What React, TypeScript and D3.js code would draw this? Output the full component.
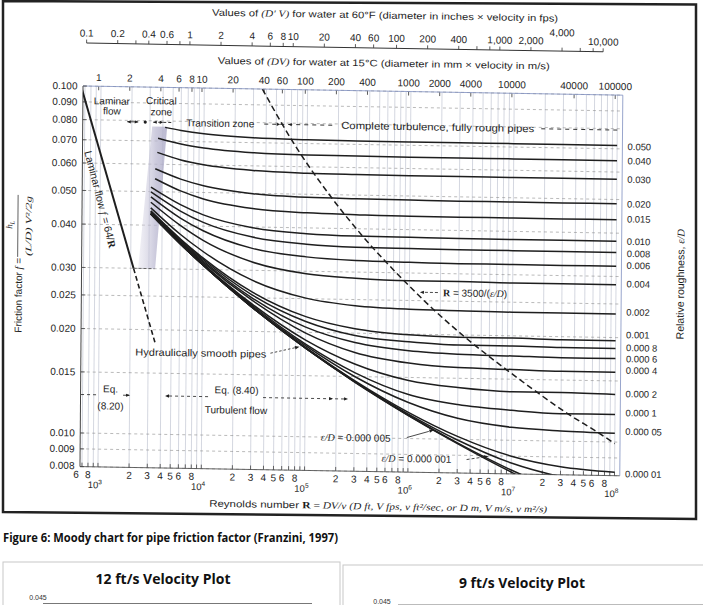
import React from "react";
import * as d3 from "d3";

// ---------- data ----------
// Reynolds numbers at which every roughness curve is read (after its own start point)
const RE_GRID = [6e3, 1e4, 3e4, 1e5, 3e5, 1e6, 3e6, 1e7, 3e7, 1e8];

const CURVE_LABELS = [
  "0.050", "0.040", "0.030", "0.020", "0.015", "0.010", "0.008", "0.006", "0.004", "0.002",
  "0.001", "0.000 8", "0.000 6", "0.000 4", "0.000 2", "0.000 1", "0.000 05", "0.000 01",
  "", "", "",
];
const LABEL_NUDGE = [1, 0, 0, 0, -1, 0, 1, -1, -1, -2, -6, -1, 0, -2, -1, -2, -2, 1.5, 0, 0, 0];
const CURVE_START_RE = [4200, 3600, 3550, 3400, 3400, 3100, 3100, 3100, 3100, 3100, 3100, 3100, 3100, 3100, 3100, 3100, 3100, 3100, 3100, 3100, 3100];
const CURVE_START_F = [0.0767, 0.0713, 0.0649, 0.0582, 0.0545, 0.0515, 0.0499, 0.0483, 0.0466, 0.0449, 0.044, 0.0438, 0.0436, 0.0434, 0.0432, 0.0432, 0.0431, 0.0431, 0.0431, 0.0431, 0.0431];
const CURVE_F = [
  [0.0753, 0.0738, 0.0723, 0.0718, 0.0716, 0.0716, 0.0716, 0.0716, 0.0716, 0.0716],
  [0.0688, 0.0672, 0.0655, 0.0649, 0.0648, 0.0647, 0.0647, 0.0647, 0.0647, 0.0647],
  [0.0619, 0.0601, 0.0582, 0.0575, 0.0573, 0.0572, 0.0572, 0.0572, 0.0572, 0.0572],
  [0.0545, 0.0523, 0.0499, 0.049, 0.0488, 0.0487, 0.0486, 0.0486, 0.0486, 0.0486],
  [0.0504, 0.0479, 0.0452, 0.0442, 0.0439, 0.0437, 0.0437, 0.0437, 0.0437, 0.0437],
  [0.046, 0.0431, 0.0398, 0.0385, 0.0381, 0.038, 0.0379, 0.0379, 0.0379, 0.0379],
  [0.0441, 0.041, 0.0374, 0.0359, 0.0354, 0.0353, 0.0352, 0.0352, 0.0352, 0.0352],
  [0.0421, 0.0388, 0.0347, 0.033, 0.0324, 0.0322, 0.0321, 0.0321, 0.0321, 0.0321],
  [0.0401, 0.0364, 0.0317, 0.0295, 0.0288, 0.0285, 0.0285, 0.0284, 0.0284, 0.0284],
  [0.0378, 0.0338, 0.0281, 0.0251, 0.024, 0.0236, 0.0235, 0.0234, 0.0234, 0.0234],
  [0.0367, 0.0324, 0.026, 0.0222, 0.0206, 0.0199, 0.0197, 0.0197, 0.0196, 0.0196],
  [0.0365, 0.0321, 0.0255, 0.0215, 0.0197, 0.019, 0.0187, 0.0187, 0.0186, 0.0186],
  [0.0362, 0.0318, 0.025, 0.0207, 0.0188, 0.0179, 0.0176, 0.0175, 0.0174, 0.0174],
  [0.036, 0.0315, 0.0246, 0.0199, 0.0176, 0.0165, 0.0161, 0.016, 0.0159, 0.0159],
  [0.0358, 0.0312, 0.024, 0.019, 0.0163, 0.0147, 0.0141, 0.0138, 0.0138, 0.0137],
  [0.0356, 0.031, 0.0238, 0.0185, 0.0154, 0.0134, 0.0126, 0.0122, 0.012, 0.012],
  [0.0356, 0.031, 0.0236, 0.0183, 0.015, 0.0127, 0.0115, 0.0109, 0.0107, 0.0106],
  [0.0355, 0.0309, 0.0235, 0.0181, 0.0146, 0.0119, 0.0102, 0.009, 0.00844, 0.00819],
  [0.0355, 0.0309, 0.0235, 0.018, 0.0145, 0.01176, 0.00996, 0.0086, 0.0079, 0.0075],
  [0.0355, 0.0309, 0.0235, 0.018, 0.0145, 0.01167, 0.00977, 0.00821, 0.0072, 0.0065],
  [0.0355, 0.0309, 0.0235, 0.018, 0.01446, 0.01165, 0.00972, 0.0081, 0.007, 0.006],
];

// laminar flow f = 64/R and its dashed extension
const LAMINAR_RE = [640, 2133];
const LAMINAR_F = [0.1, 0.03];
const LAMINAR_EXT_RE = [2133, 3480];
const LAMINAR_EXT_F = [0.03, 0.0184];

// boundary R = 3500/(e/D)
const BOUNDARY_RE = [36500, 70000, 175000, 350000, 875000, 1.75e6, 3.5e6, 8.75e6, 1.75e7, 3.5e7, 7e7, 1e8];
const BOUNDARY_F = [0.1, 0.0719, 0.0489, 0.0381, 0.0286, 0.0235, 0.0197, 0.016, 0.0138, 0.012, 0.0106, 0.0099];

// critical zone shading
const CRIT_RE = [2360, 3450, 4400, 3150];
const CRIT_F = [0.03, 0.03, 0.077, 0.077];

// axis ticks
const F_TICKS = [0.1, 0.09, 0.08, 0.07, 0.06, 0.05, 0.04, 0.03, 0.025, 0.02, 0.015, 0.01, 0.009, 0.008];
const F_TICK_LABELS = ["0.100", "0.090", "0.080", "0.070", "0.060", "0.050", "0.040", "0.030", "0.025", "0.020", "0.015", "0.010", "0.009", "0.008"];
const RE_LABEL_MULTS = [2, 3, 4, 5, 6, 8];
const RE_DECADES = [3, 4, 5, 6, 7, 8];
const RE_LOW_LABELS = [600, 800];

const DPV_FACTOR = 7200; // Re per unit of D'V (in x fps)
const DPV_TICKS = [0.1, 0.2, 0.4, 0.6, 1, 2, 4, 6, 8, 10, 20, 40, 60, 100, 200, 400, 1000, 2000, 4000, 10000];
const DPV_LABELS = ["0.1", "0.2", "0.4", "0.6", "1", "2", "4", "6", "8", "10", "20", "40", "60", "100", "200", "400", "1,000", "2,000", "4,000", "10,000"];
const DPV_MINOR = [0.3, 0.8, 600, 800, 6000, 8000];
const DV_FACTOR = 950; // Re per unit of DV (mm x m/s)
const DV_TICKS = [1, 2, 4, 6, 8, 10, 20, 40, 60, 100, 200, 400, 1000, 2000, 4000, 10000, 40000, 100000];
const DV_LABELS = ["1", "2", "4", "6", "8", "10", "20", "40", "60", "100", "200", "400", "1000", "2000", "4000", "10000", "40000", "100000"];

const SANS = "'Liberation Sans', Arial, sans-serif";
const SERIF = "'Liberation Serif', 'Times New Roman', serif";
const INK = "#1e1e1e";

function arrowHead(x: number, y: number, dir: number, len = 5, hw = 2): string {
  const c = Math.cos(dir), s = Math.sin(dir);
  const bx = x - len * c, by = y - len * s;
  return `M${x},${y}L${bx - hw * s},${by + hw * c}L${bx + hw * s},${by - hw * c}Z`;
}

export default function App() {
  const PL = 81.5, PR = 621.3, PT = 86, PB = 466.6;
  const x = d3.scaleLog().domain([669.7, 1.125e8]).range([PL, PR]);
  const y = d3.scaleLog().domain([0.008, 0.1]).range([PB, PT]);
  const line = d3
    .line<[number, number]>()
    .x((d) => x(d[0]))
    .y((d) => y(d[1]))
    .curve(d3.curveMonotoneX);
  const straight = d3
    .line<[number, number]>()
    .x((d) => x(d[0]))
    .y((d) => y(d[1]));

  const curves = CURVE_F.map((fs, i) => {
    const pts: [number, number][] = [[CURVE_START_RE[i], CURVE_START_F[i]]];
    RE_GRID.forEach((re, j) => {
      if (re > CURVE_START_RE[i]) pts.push([re, fs[j]]);
    });
    return pts;
  });

  const vGrid: number[] = [];
  for (let d = 2; d <= 8; d++) {
    for (let m = 1; m <= 9; m++) {
      const v = m * Math.pow(10, d);
      if (v >= 669.7 && v <= 1.125e8) vGrid.push(v);
    }
  }

  const reLabels: { v: number; t: string }[] = RE_LOW_LABELS.map((v) => ({ v, t: String(v / 100) }));
  RE_DECADES.forEach((d) => {
    if (d < 8) RE_LABEL_MULTS.forEach((m) => reLabels.push({ v: m * Math.pow(10, d), t: String(m) }));
  });

  const boundaryPts = BOUNDARY_RE.map((r, i) => [r, BOUNDARY_F[i]] as [number, number]);
  const critPts = CRIT_RE.map((r, i) => [x(r), y(CRIT_F[i])].join(",")).join(" ");

  const rowY = 121;
  const eqY = 394.5;
  const B = 0.017, C = -0.008;
  const skew = `matrix(1,${B},${C},1,${-C * 276},${-B * 82})`;

  return (
    <svg
      width={703}
      height={605}
      viewBox="0 0 703 605"
      style={{ position: "fixed", left: 0, top: 0, background: "#fff" }}
      fontFamily={SANS}
    >
      <defs>
        <clipPath id="plotClip">
          <rect x={PL} y={PT} width={PR - PL} height={PB - PT} />
        </clipPath>
        <linearGradient id="critGrad" x1="0" x2="1" y1="0" y2="0">
          <stop offset="0" stopColor="#d9d7e6" stopOpacity={0.35} />
          <stop offset="0.6" stopColor="#bcbad2" stopOpacity={0.75} />
          <stop offset="1" stopColor="#aeacc8" stopOpacity={0.85} />
        </linearGradient>
      </defs>
      <rect x={0} y={0} width={703} height={605} fill="#fff" />

      {/* scanned figure frame */}
      <polygon points="3,1 696,4.5 696,519 3,512" fill="none" stroke="#222" strokeWidth={2.5} />

      <g transform={skew}>
        {/* top scale 1: D'V */}
        <text x={383} y={13.5} fontSize={9.5} textAnchor="middle" fill={INK} textLength={346} lengthAdjust="spacingAndGlyphs">
          Values of <tspan fontFamily={SERIF} fontStyle="italic">(D′ V)</tspan> for water at 60°F (diameter in inches × velocity in fps)
        </text>
        <line x1={x(DPV_TICKS[0] * DPV_FACTOR)} x2={x(DPV_TICKS[DPV_TICKS.length - 1] * DPV_FACTOR)} y1={43} y2={43} stroke="#333" strokeWidth={1} />
        {DPV_TICKS.concat(DPV_MINOR).map((v, i) => (
          <line key={"dpt" + i} x1={x(v * DPV_FACTOR)} x2={x(v * DPV_FACTOR)} y1={43} y2={39.5} stroke="#333" strokeWidth={0.8} />
        ))}
        {DPV_TICKS.map((v, i) => (
          <text key={"dpl" + i} x={x(v * DPV_FACTOR)} y={DPV_LABELS[i] === "4,000" ? 28 : 36.5} fontSize={10} textAnchor="middle" fill={INK}>
            {DPV_LABELS[i]}
          </text>
        ))}

        {/* top scale 2: DV */}
        <text x={382} y={61.5} fontSize={9.5} textAnchor="middle" fill={INK} textLength={332} lengthAdjust="spacingAndGlyphs">
          Values of <tspan fontFamily={SERIF} fontStyle="italic">(DV)</tspan> for water at 15°C (diameter in mm × velocity in m/s)
        </text>
        {DV_TICKS.map((v, i) => (
          <g key={"dv" + i}>
            <line x1={x(v * DV_FACTOR)} x2={x(v * DV_FACTOR)} y1={PT} y2={PT + 4} stroke="#333" strokeWidth={0.8} />
            <text x={x(v * DV_FACTOR)} y={80.8} fontSize={10} textAnchor="middle" fill={INK}>
              {DV_LABELS[i]}
            </text>
          </g>
        ))}

        {/* grid */}
        {vGrid.map((v, i) => (
          <line key={"vg" + i} x1={x(v)} x2={x(v)} y1={PT} y2={PB} stroke="#b8bccb" strokeWidth={0.6} />
        ))}
        {F_TICKS.map((f, i) => (
          <line key={"hg" + i} x1={PL} x2={PR} y1={y(f)} y2={y(f)} stroke="#8c8c8c" strokeWidth={0.6} strokeDasharray="3,3" />
        ))}

        {/* plot borders */}
        <line x1={PL} x2={PL} y1={PT} y2={PB} stroke="#444" strokeWidth={1} />
        <line x1={PL} x2={PR} y1={PB} y2={PB} stroke="#555" strokeWidth={0.9} />
        <line x1={PL} x2={PR} y1={PT} y2={PT} stroke="#7f8fc0" strokeWidth={0.8} />
        <line x1={PR} x2={PR} y1={PT} y2={PB} stroke="#7f8fc0" strokeWidth={0.8} />

        {/* bottom & left ticks */}
        {vGrid.map((v, i) => (
          <line key={"bt" + i} x1={x(v)} x2={x(v)} y1={PB} y2={PB - 4} stroke="#444" strokeWidth={0.8} />
        ))}
        {F_TICKS.map((f, i) => (
          <line key={"lt" + i} x1={PL} x2={PL + 4} y1={y(f)} y2={y(f)} stroke="#444" strokeWidth={0.8} />
        ))}

        {/* critical zone shading */}
        <polygon points={critPts} fill="url(#critGrad)" />

        <g clipPath="url(#plotClip)">
          {/* laminar */}
          <path d={straight(LAMINAR_RE.map((r, i) => [r, LAMINAR_F[i]] as [number, number])) || ""} fill="none" stroke={INK} strokeWidth={2} />
          <path d={straight(LAMINAR_EXT_RE.map((r, i) => [r, LAMINAR_EXT_F[i]] as [number, number])) || ""} fill="none" stroke={INK} strokeWidth={1.6} strokeDasharray="5,3" />
          <line x1={x(LAMINAR_EXT_RE[0])} x2={x(3400)} y1={y(0.03)} y2={y(0.03)} stroke="#555" strokeWidth={0.9} strokeDasharray="3,2" />

          {/* roughness curves */}
          {curves.map((pts, i) => (
            <path key={"c" + i} d={line(pts) || ""} fill="none" stroke={INK} strokeWidth={1.5} />
          ))}

          {/* R = 3500/(e/D) */}
          <path d={line(boundaryPts) || ""} fill="none" stroke={INK} strokeWidth={1.5} strokeDasharray="6,3.5" />
        </g>

        {/* right labels */}
        {CURVE_LABELS.map((t, i) =>
          t ? (
            <text key={"rl" + i} x={626.5} y={y(CURVE_F[i][CURVE_F[i].length - 1]) + 3.4 + LABEL_NUDGE[i]} fontSize={9.4} fill={INK}>
              {t}
            </text>
          ) : null
        )}
        <text transform="translate(684,274) rotate(-90)" fontSize={10.5} textAnchor="middle" fill={INK}>
          Relative roughness, <tspan fontFamily={SERIF} fontStyle="italic">ε/D</tspan>
        </text>

        {/* left labels */}
        {F_TICKS.map((f, i) => (
          <text key={"fl" + i} x={76} y={y(f) + 3.5 - (i === F_TICKS.length - 1 ? 1 : 0)} fontSize={10} textAnchor="end" fill={INK}>
            {F_TICK_LABELS[i]}
          </text>
        ))}
        <g transform="rotate(-90)">
          <text x={-259} y={22} fontSize={10} textAnchor="end" fill={INK}>
            Friction factor <tspan fontFamily={SERIF} fontStyle="italic">f</tspan> =
          </text>
          <text x={-226} y={12} fontSize={9} textAnchor="middle" fill={INK} fontFamily={SERIF} fontStyle="italic">
            h<tspan fontSize={6.5} dy={2}>L</tspan>
          </text>
          <line x1={-258} x2={-196} y1={17.5} y2={17.5} stroke={INK} strokeWidth={0.7} />
          <text x={-227} y={31} fontSize={8.5} textAnchor="middle" fill={INK} fontFamily={SERIF} fontStyle="italic" textLength={60} lengthAdjust="spacingAndGlyphs">
            (L/D) V²/2g
          </text>
        </g>

        {/* bottom labels */}
        {reLabels.map((d, i) => (
          <text key={"rx" + i} x={x(d.v) + (d.v === 600 ? 1 : 0)} y={478} fontSize={10} textAnchor="middle" fill={INK}>
            {d.t}
          </text>
        ))}
        {RE_DECADES.map((d) => (
          <text key={"dec" + d} x={x(Math.pow(10, d)) - 3} y={488} fontSize={9.5} textAnchor="middle" fill={INK}>
            10<tspan fontSize={6.5} dy={-4}>{d}</tspan>
          </text>
        ))}
        <text x={380} y={504.5} fontSize={9.5} textAnchor="middle" fill={INK} textLength={338} lengthAdjust="spacingAndGlyphs">
          Reynolds number <tspan fontFamily={SERIF} fontWeight="bold">R</tspan>
          <tspan fontFamily={SERIF}> = </tspan>
          <tspan fontFamily={SERIF} fontStyle="italic">DV/ν (D ft, V fps, ν ft²/sec, or D m, V m/s, ν m²/s)</tspan>
        </text>

        {/* annotations */}
        <text x={110.5} y={104} fontSize={10} textAnchor="middle" fill={INK}>Laminar</text>
        <text x={110.5} y={114} fontSize={10} textAnchor="middle" fill={INK}>flow</text>
        <text x={160} y={103} fontSize={10} textAnchor="middle" fill={INK}>Critical</text>
        <text x={160} y={114} fontSize={10} textAnchor="middle" fill={INK}>zone</text>

        <line x1={126} x2={137} y1={rowY} y2={rowY} stroke={INK} strokeWidth={0.9} />
        <path d={arrowHead(126, rowY, Math.PI, 3.5, 1.6)} fill={INK} />
        <path d={arrowHead(137, rowY, 0, 3.5, 1.6)} fill={INK} />
        <circle cx={144} cy={rowY} r={1.6} fill={INK} />
        <line x1={152} x2={170} y1={rowY} y2={rowY} stroke={INK} strokeWidth={0.9} strokeDasharray="3,2" />
        <path d={arrowHead(152, rowY, Math.PI, 3.5, 1.6)} fill={INK} />
        <path d={arrowHead(162, rowY, 0, 3.5, 1.6)} fill={INK} />
        <text x={185} y={124.5} fontSize={10} fill={INK}>Transition zone</text>
        <line x1={263} x2={335} y1={rowY} y2={rowY} stroke={INK} strokeWidth={0.9} strokeDasharray="4,4" />
        <path d={arrowHead(279, rowY, 0, 3.5, 1.6)} fill={INK} />
        <path d={arrowHead(287, rowY, Math.PI, 3.5, 1.6)} fill={INK} />
        <text x={340} y={124.5} fontSize={10} fill={INK} textLength={193} lengthAdjust="spacingAndGlyphs">
          Complete turbulence, fully rough pipes
        </text>
        <line x1={540} x2={620} y1={rowY} y2={rowY} stroke={INK} strokeWidth={0.9} strokeDasharray="4,4" />

        <text transform="translate(100,199) rotate(75)" fontSize={10.5} textAnchor="middle" dominantBaseline="central" fill={INK}>
          Laminar flow <tspan fontFamily={SERIF} fontStyle="italic">f</tspan> = 64/<tspan fontFamily={SERIF} fontWeight="bold">R</tspan>
        </text>

        <text x={136} y={354.5} fontSize={10} fill={INK} textLength={131} lengthAdjust="spacingAndGlyphs">
          Hydraulically smooth pipes
        </text>
        <line x1={271} x2={296} y1={350} y2={344} stroke={INK} strokeWidth={0.8} strokeDasharray="2.5,2" />
        <path d={arrowHead(300, 343, -0.23, 4.5, 1.8)} fill={INK} />

        <text x={111.5} y={392} fontSize={10} textAnchor="middle" fill={INK}>Eq.</text>
        <text x={111.5} y={409} fontSize={10} textAnchor="middle" fill={INK}>(8.20)</text>
        <line x1={82} x2={98} y1={eqY} y2={eqY} stroke={INK} strokeWidth={0.8} strokeDasharray="3,3" />
        <line x1={124} x2={130} y1={eqY} y2={eqY} stroke={INK} strokeWidth={0.8} />
        <path d={arrowHead(131, eqY, 0, 4, 1.6)} fill={INK} />
        <path d={arrowHead(166, eqY, Math.PI, 4, 1.8)} fill={INK} />
        <line x1={170} x2={212} y1={eqY} y2={eqY} stroke={INK} strokeWidth={0.8} strokeDasharray="3,3" />
        <line x1={264} x2={346} y1={eqY} y2={eqY} stroke={INK} strokeWidth={0.8} strokeDasharray="3,3" />
        <path d={arrowHead(334, eqY, 0, 4, 1.6)} fill={INK} />
        <path d={arrowHead(349, eqY, 0, 4, 1.6)} fill={INK} />
        <text x={237.5} y={391} fontSize={10} textAnchor="middle" fill={INK}>Eq. (8.40)</text>
        <text x={237} y={411} fontSize={10} textAnchor="middle" fill={INK}>Turbulent flow</text>

        <text x={443} y={290} fontSize={10} fill={INK}>
          <tspan fontFamily={SERIF} fontWeight="bold">R</tspan> = 3500/(<tspan fontFamily={SERIF} fontStyle="italic">ε/D</tspan>)
        </text>
        <line x1={425} x2={439} y1={286.5} y2={286.5} stroke={INK} strokeWidth={0.8} strokeDasharray="3,2" />
        <path d={arrowHead(420, 286.5, Math.PI, 4, 1.6)} fill={INK} />

        <text x={322} y={436.5} fontSize={10} fill={INK}>
          <tspan fontFamily={SERIF} fontStyle="italic">ε/D</tspan> = 0.000 005
        </text>
        <line x1={408} x2={430} y1={432} y2={425.5} stroke={INK} strokeWidth={0.8} />
        <path d={arrowHead(435, 424, -0.29, 4.5, 1.7)} fill={INK} />
        <text x={383} y={456.5} fontSize={10} fill={INK}>
          <tspan fontFamily={SERIF} fontStyle="italic">ε/D</tspan> = 0.000 001
        </text>
        <line x1={468} x2={486} y1={453} y2={450} stroke={INK} strokeWidth={0.8} strokeDasharray="3,2" />
        <path d={arrowHead(490, 449.3, -0.17, 4.5, 1.7)} fill={INK} />
      </g>

      {/* document text below the figure */}
      <text x={3} y={541.5} fontSize={13} fontWeight="bold" fill="#111" fontFamily="'Open Sans', 'Liberation Sans', sans-serif" textLength={335} lengthAdjust="spacingAndGlyphs">
        Figure 6: Moody chart for pipe friction factor (Franzini, 1997)
      </text>

      <rect x={3} y={562} width={337} height={60} fill="none" stroke="#c8c8c8" strokeWidth={1} />
      <text x={163} y={584} fontSize={15} fontWeight="bold" textAnchor="middle" fill="#111" fontFamily="'Open Sans', 'Liberation Sans', sans-serif" textLength={135} lengthAdjust="spacingAndGlyphs">
        12 ft/s Velocity Plot
      </text>
      <text x={38} y={599.5} fontSize={7} textAnchor="middle" fill="#333">0.045</text>
      <line x1={43} x2={312} y1={603.5} y2={603.5} stroke="#777" strokeWidth={1} />

      <rect x={343} y={565} width={365} height={60} fill="none" stroke="#c8c8c8" strokeWidth={1} />
      <text x={522} y={588} fontSize={15} fontWeight="bold" textAnchor="middle" fill="#111" fontFamily="'Open Sans', 'Liberation Sans', sans-serif" textLength={126} lengthAdjust="spacingAndGlyphs">
        9 ft/s Velocity Plot
      </text>
      <text x={382} y={604} fontSize={7} textAnchor="middle" fill="#333">0.045</text>
      <line x1={398} x2={703} y1={605} y2={605} stroke="#777" strokeWidth={1} />
    </svg>
  );
}
